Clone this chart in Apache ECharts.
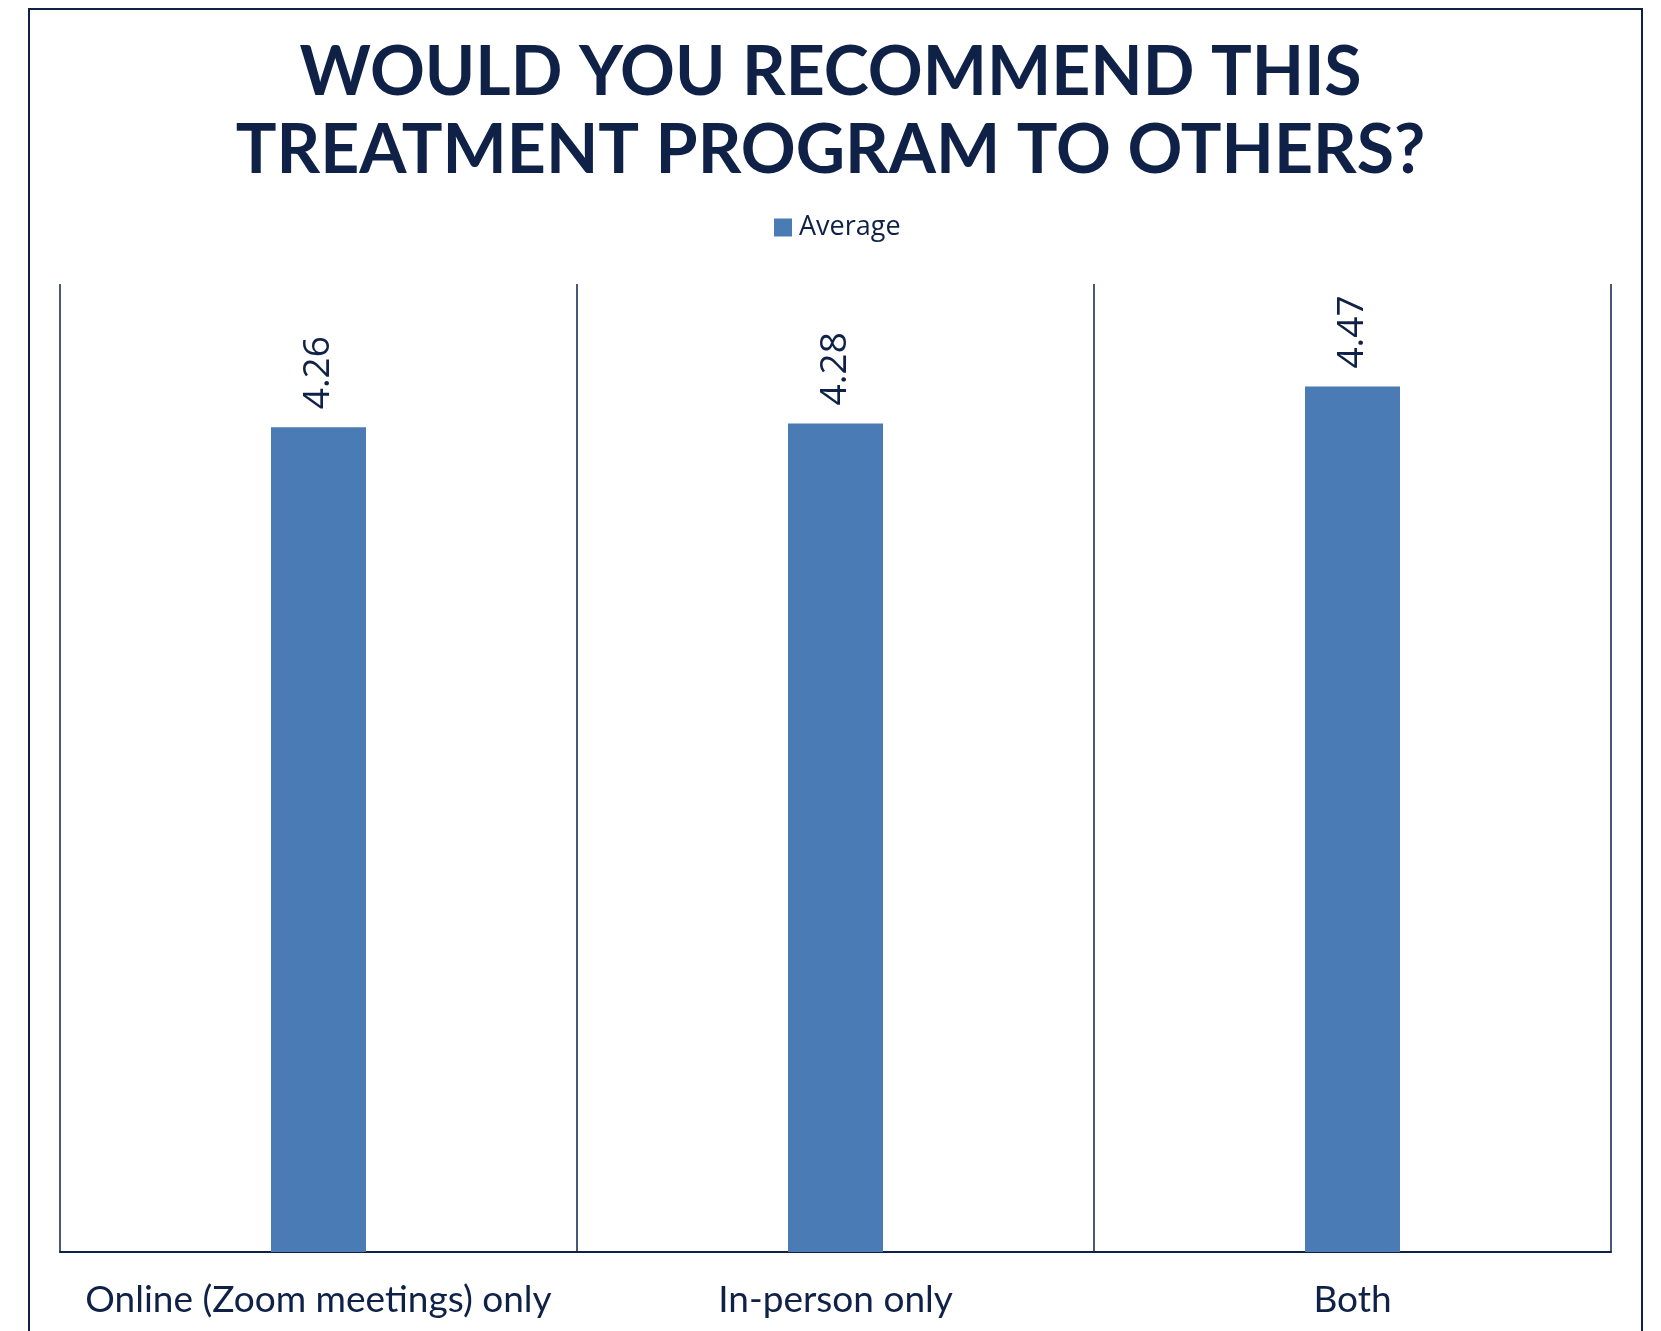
<!DOCTYPE html>
<html>
<head>
<meta charset="utf-8">
<script src="https://cdn.jsdelivr.net/npm/echarts@6/dist/echarts.min.js"></script>
<style>
  html, body { margin: 0; padding: 0; background: #fff; }
  #chart { width: 1661px; height: 1331px; }
</style>
</head>
<body>
<div id="chart"></div>
<script>
const navy = '#0f2147', barColor = '#4a7bb4'

const categories = ['Online (Zoom meetings) only', 'In-person only', 'Both']
const averages = [4.26, 4.28, 4.47]
const seriesName = 'Average'

let myChart = echarts.init(document.getElementById('chart'))
myChart.setOption({
  backgroundColor: '#fff',
  title: {
    text: 'WOULD YOU RECOMMEND THIS\nTREATMENT PROGRAM TO OTHERS?',
    left: 'center',
    top: 29,
    textStyle: {
      fontFamily: 'Lato',
      fontWeight: 'bold',
      fontSize: 68,
      lineHeight: 78,
      color: navy
    }
  },
  legend: {
    data: [seriesName],
    left: 769,
    top: 209,
    icon: 'rect',
    itemWidth: 18,
    itemHeight: 18,
    textStyle: { fontFamily: 'Open Sans', fontSize: 27, color: navy, padding: [0, 0, 0, 2] }
  },
  graphic: [
    {
      // outer frame
      type: 'rect',
      shape: { x: 29, y: 9, width: 1613, height: 1340 },
      style: { fill: 'none', stroke: navy, lineWidth: 2 },
      silent: true
    }
  ],
  grid: { left: 60, right: 50, top: 284, bottom: 79 },
  xAxis: {
    type: 'category',
    data: categories,
    axisTick: { show: false },
    axisLine: { lineStyle: { color: navy, width: 2 } },
    splitLine: { show: true, interval: 0, lineStyle: { color: navy, width: 1.5 } },
    axisLabel: { interval: 0, fontFamily: 'Lato', fontSize: 37, color: navy, margin: 30 }
  },
  yAxis: {
    type: 'value',
    min: 0,
    max: 5,
    show: false,
    splitLine: { show: false }
  },
  series: [
    {
      name: seriesName,
      type: 'bar',
      data: averages,
      barWidth: 95,
      itemStyle: { color: barColor },
      label: {
        show: true,
        position: 'top',
        distance: 18,
        rotate: 90,
        align: 'left',
        verticalAlign: 'middle',
        fontFamily: 'Open Sans',
        fontSize: 37,
        color: navy,
        formatter: p => p.value.toFixed(2)
      }
    }
  ]
})
</script>
</body>
</html>
